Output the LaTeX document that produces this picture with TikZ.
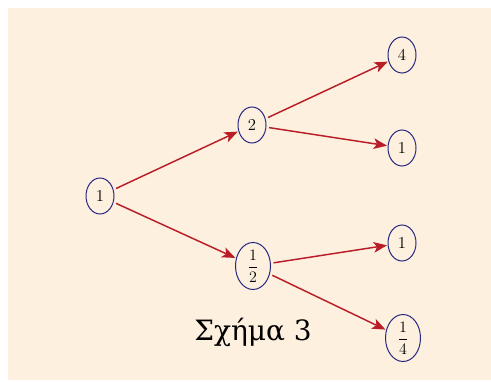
\documentclass[tikz,border=0pt]{standalone}
\usepackage{amsmath}
\usepackage{fontspec}
\newfontfamily\greekfont{DejaVu Serif}
\usetikzlibrary{shapes.geometric,arrows.meta}
\definecolor{bgbeige}{RGB}{253,240,223}
\definecolor{arrred}{RGB}{185,30,40}
\definecolor{ellblue}{RGB}{40,40,130}
\tikzset{
  num/.style={ellipse,draw=ellblue,line width=0.75pt,inner sep=0pt,
    minimum width=28*0.75pt,minimum height=36*0.75pt,
    font=\fontsize{12.5}{14}\selectfont},
  fracnum/.style={num,minimum width=35*0.75pt,minimum height=47*0.75pt},
  conn/.style={draw=arrred,line width=1.1pt,-{Stealth[length=10pt,width=8pt,inset=2.5pt]},shorten <=2pt,shorten >=0.5pt}
}
\begin{document}
\begin{tikzpicture}[x=0.75pt,y=-0.75pt]
\useasboundingbox (0,0) rectangle (491,381);
\fill[bgbeige] (8,8) rectangle (491,380);
\node[num] (a) at (100,196) {1};
\node[num] (b) at (252,125) {2};
\node[fracnum] (c) at (253,266) {$\dfrac{1}{2}$};
\node[num] (d) at (402,55) {4};
\node[num] (e) at (402,148) {1};
\node[num] (f) at (402,243) {1};
\node[fracnum] (g) at (403,338) {$\dfrac{1}{4}$};
\draw[conn] (a) -- (b);
\draw[conn] (a) -- (c);
\draw[conn] (b) -- (d);
\draw[conn] (b) -- (e);
\draw[conn] (c) -- (f);
\draw[conn] (c) -- (g);
\node[font=\greekfont\fontsize{21}{26}\selectfont] (cap) at (253,332) {Σχήμα 3};
\end{tikzpicture}
\end{document}
